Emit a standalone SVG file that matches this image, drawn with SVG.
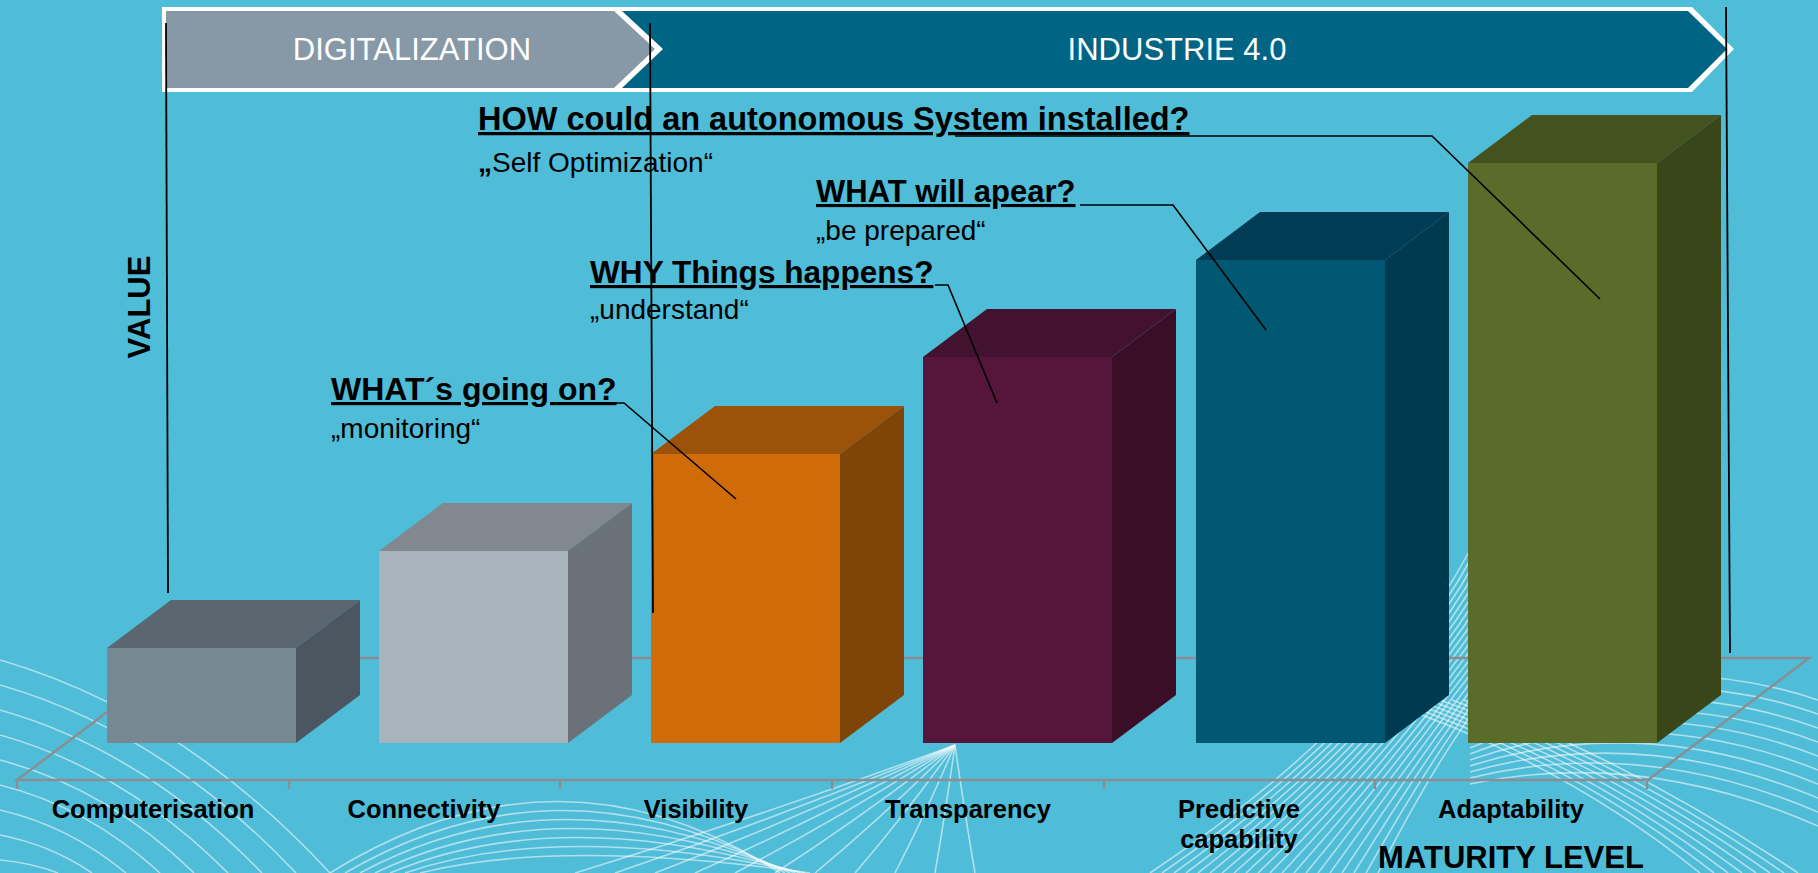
<svg xmlns="http://www.w3.org/2000/svg" width="1818" height="873" viewBox="0 0 1818 873">
<defs>
<style>
.bg{fill:#4FBCD8}
.wave{fill:none;stroke:#ffffff;stroke-width:1.6;opacity:0.55}
.floor{fill:none;stroke:#8A8E92;stroke-width:2.5}
.band{font-family:"Liberation Sans",Arial,sans-serif;font-size:31px;fill:#ffffff;text-anchor:middle}
.q{font-family:"Liberation Sans",Arial,sans-serif;font-weight:bold;font-size:32px;fill:#000000;text-decoration:underline}
.sub{font-family:"Liberation Sans",Arial,sans-serif;font-size:28px;fill:#000000}
.lbl{font-family:"Liberation Sans",Arial,sans-serif;font-weight:bold;font-size:25.5px;fill:#000000;text-anchor:middle}
.ax{font-family:"Liberation Sans",Arial,sans-serif;font-weight:bold;font-size:31px;fill:#000000;text-anchor:middle}
.lead{fill:none;stroke:#000000;stroke-width:1.6}
.vline{fill:none;stroke:#000000;stroke-width:1.8}
</style>
</defs>
<rect class="bg" x="0" y="0" width="1818" height="873"/>

<g id="background-waves">
<path class="wave" d="M0,660 Q182,713 330,873"/>
<path class="wave" d="M0,685 Q163,732 296,873"/>
<path class="wave" d="M0,710 Q144,751 262,873"/>
<path class="wave" d="M0,735 Q125,770 228,873"/>
<path class="wave" d="M0,760 Q107,788 194,873"/>
<path class="wave" d="M0,785 Q88,807 160,873"/>
<path class="wave" d="M0,810 Q69,826 126,873"/>
<path class="wave" d="M0,835 Q51,845 92,873"/>
<path class="wave" d="M0,860 Q32,863 58,873"/>
<path class="wave" d="M330,873 Q560,730 780,873"/>
<path class="wave" d="M345,873 Q560,748 785,873"/>
<path class="wave" d="M360,873 Q560,766 790,873"/>
<path class="wave" d="M375,873 Q560,784 795,873"/>
<path class="wave" d="M390,873 Q560,802 800,873"/>
<path class="wave" d="M405,873 Q560,820 805,873"/>
<path class="wave" d="M420,873 Q560,838 810,873"/>
<path class="wave" d="M955,745 Q965,815 975,873"/>
<path class="wave" d="M955,745 Q945,815 935,873"/>
<path class="wave" d="M955,745 Q925,815 895,873"/>
<path class="wave" d="M955,745 Q905,815 855,873"/>
<path class="wave" d="M955,745 Q885,815 815,873"/>
<path class="wave" d="M955,745 Q865,815 775,873"/>
<path class="wave" d="M955,745 Q845,815 735,873"/>
<path class="wave" d="M955,745 Q825,815 695,873"/>
<path class="wave" d="M955,745 Q805,815 655,873"/>
<path class="wave" d="M955,745 Q785,815 615,873"/>
<path class="wave" d="M955,745 Q765,815 575,873"/>
<path class="wave" d="M1150,873 Q1380,720 1470,550"/>
<path class="wave" d="M1162,873 Q1384,720 1473,555"/>
<path class="wave" d="M1174,873 Q1388,720 1476,560"/>
<path class="wave" d="M1186,873 Q1392,720 1479,565"/>
<path class="wave" d="M1198,873 Q1396,720 1482,570"/>
<path class="wave" d="M1210,873 Q1400,720 1485,575"/>
<path class="wave" d="M1222,873 Q1404,720 1488,580"/>
<path class="wave" d="M1234,873 Q1408,720 1491,585"/>
<path class="wave" d="M1246,873 Q1412,720 1494,590"/>
<path class="wave" d="M1258,873 Q1416,720 1497,595"/>
<path class="wave" d="M1270,873 Q1420,720 1500,600"/>
<path class="wave" d="M1282,873 Q1424,720 1503,605"/>
<path class="wave" d="M1294,873 Q1428,720 1506,610"/>
<path class="wave" d="M1306,873 Q1432,720 1509,615"/>
<path class="wave" d="M1318,873 Q1436,720 1512,620"/>
<path class="wave" d="M1330,873 Q1440,720 1515,625"/>
<path class="wave" d="M1342,873 Q1444,720 1518,630"/>
<path class="wave" d="M1354,873 Q1448,720 1521,635"/>
<path class="wave" d="M1366,873 Q1452,720 1524,640"/>
<path class="wave" d="M1378,873 Q1456,720 1527,645"/>
<path class="wave" d="M1470,730 Q1640,640 1818,700"/>
<path class="wave" d="M1470,736 Q1640,652 1818,714"/>
<path class="wave" d="M1470,742 Q1640,664 1818,728"/>
<path class="wave" d="M1470,748 Q1640,676 1818,742"/>
<path class="wave" d="M1470,754 Q1640,688 1818,756"/>
<path class="wave" d="M1470,760 Q1640,700 1818,770"/>
<path class="wave" d="M1470,766 Q1640,712 1818,784"/>
<path class="wave" d="M1470,772 Q1640,724 1818,798"/>
<path class="wave" d="M1470,778 Q1640,736 1818,812"/>
<path class="wave" d="M1470,784 Q1640,748 1818,826"/>
<path class="wave" d="M1380,700 Q1560,760 1700,873"/>
<path class="wave" d="M1392,700 Q1570,760 1714,873"/>
<path class="wave" d="M1404,700 Q1580,760 1728,873"/>
<path class="wave" d="M1416,700 Q1590,760 1742,873"/>
<path class="wave" d="M1428,700 Q1600,760 1756,873"/>
<path class="wave" d="M1440,700 Q1610,760 1770,873"/>
<path class="wave" d="M1452,700 Q1620,760 1784,873"/>
<path class="wave" d="M1464,700 Q1630,760 1798,873"/>
</g>

<g id="floor">
<polygon class="floor" points="179,658 1809,658 1648,780 17,780"/>
<path class="floor" d="M17,780 v9 M289,780 v9 M560,780 v9 M832,780 v9 M1104,780 v9 M1375,780 v9 M1647,780 v9"/>
</g>

<g id="banner-digitalization">
<polygon fill="#ffffff" points="162,7 1692,7 1734,49 1692,92 162,92"/>
<polygon fill="#8799A7" points="166,11 614,11 655,49 614,88 166,88"/>
<text class="band" x="412" y="60">DIGITALIZATION</text>
</g>
<g id="banner-industrie">
<polygon fill="#006585" points="622,11 1688,11 1727,49 1688,88 622,88 663,49"/>
<text class="band" x="1177" y="60">INDUSTRIE 4.0</text>
</g>

<g id="bar-computerisation">
<polygon fill="#5B6770" points="107,648 171,600 360,600 296,648"/>
<polygon fill="#4C5660" points="296,648 360,600 360,695 296,743"/>
<rect fill="#788892" x="107" y="648" width="189" height="95"/>
</g>
<g id="bar-connectivity">
<polygon fill="#81888F" points="379,551 443,503 632,503 568,551"/>
<polygon fill="#6A7179" points="568,551 632,503 632,695 568,743"/>
<rect fill="#A9B3BC" x="379" y="551" width="189" height="192"/>
</g>
<g id="bar-visibility">
<polygon fill="#9D5209" points="651,454 715,406 904,406 840,454"/>
<polygon fill="#7F4408" points="840,454 904,406 904,695 840,743"/>
<rect fill="#D06B0A" x="651" y="454" width="189" height="289"/>
</g>
<g id="bar-transparency">
<polygon fill="#43122F" points="923,357 987,309 1176,309 1112,357"/>
<polygon fill="#390E26" points="1112,357 1176,309 1176,695 1112,743"/>
<rect fill="#56163C" x="923" y="357" width="189" height="386"/>
</g>
<g id="bar-predictive">
<polygon fill="#003D55" points="1196,260 1260,212 1449,212 1385,260"/>
<polygon fill="#003A50" points="1385,260 1449,212 1449,695 1385,743"/>
<rect fill="#005873" x="1196" y="260" width="189" height="483"/>
</g>
<g id="bar-adaptability">
<polygon fill="#43521E" points="1468,163 1532,115 1721,115 1657,163"/>
<polygon fill="#38461A" points="1657,163 1721,115 1721,695 1657,743"/>
<rect fill="#5A6C29" x="1468" y="163" width="189" height="580"/>
</g>

<g id="question-how">
<text class="q" x="478" y="130" style="font-size:32.5px">HOW could an autonomous System installed?</text>
<text class="sub" x="478" y="172"><tspan font-weight="bold">„</tspan>Self Optimization“</text>
</g>
<g id="question-what-will">
<text class="q" x="816" y="202" style="font-size:31px">WHAT will apear?</text>
<text class="sub" x="816" y="240">„be prepared“</text>
</g>
<g id="question-why">
<text class="q" x="590" y="283" style="font-size:31.6px">WHY Things happens?</text>
<text class="sub" x="590" y="319">„understand“</text>
</g>
<g id="question-whats">
<text class="q" x="331" y="400">WHAT´s going on?</text>
<text class="sub" x="331" y="438">„monitoring“</text>
</g>

<g id="axis-labels">
<text class="ax" transform="translate(150,307) rotate(-90)">VALUE</text>
<text class="lbl" x="153" y="818">Computerisation</text>
<text class="lbl" x="424" y="818">Connectivity</text>
<text class="lbl" x="696" y="818">Visibility</text>
<text class="lbl" x="968" y="818">Transparency</text>
<text class="lbl" x="1239" y="818">Predictive</text>
<text class="lbl" x="1239" y="848">capability</text>
<text class="lbl" x="1511" y="818">Adaptability</text>
<text class="ax" x="1511" y="868">MATURITY LEVEL</text>
</g>

<g id="connectors">
<path class="vline" d="M166,23 L168,593"/>
<path class="vline" d="M650,23 L653,613"/>
<path class="vline" d="M1726,7 L1730,653"/>
<path class="lead" d="M955,136 H1432 L1600,299"/>
<path class="lead" d="M1080,205 H1173 L1266,330"/>
<path class="lead" d="M935,285 H948 L997,403"/>
<path class="lead" d="M615,403 H624 L736,499"/>
</g>
</svg>
